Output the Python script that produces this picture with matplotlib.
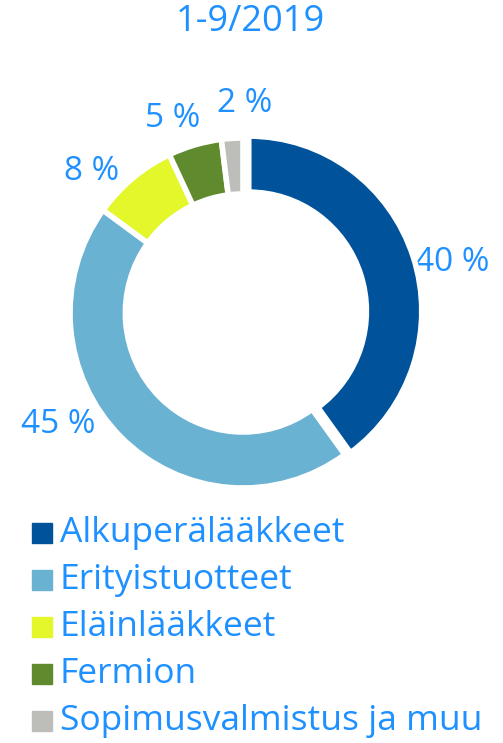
import numpy as np
import matplotlib.pyplot as plt
from matplotlib.patches import Rectangle

# data
segments = ['Alkuperälääkkeet', 'Erityistuotteet', 'Eläinlääkkeet', 'Fermion',
            'Sopimusvalmistus ja muu']
shares = [40, 45, 8, 5, 2]
colors = ['#00539b', '#6ab2d2', '#e3f72a', '#5f8b2e', '#bdbdb9']
title = '1-9/2019'

txt_col = '#1e90ff'
plt.rcParams['font.family'] = ['Open Sans', 'DejaVu Sans']

W, H = 503, 743
fig = plt.figure(figsize=(W / 100, H / 100), dpi=100)
ax = fig.add_axes([0, 0, 1, 1])
ax.set_xlim(0, W)
ax.set_ylim(0, H)
ax.axis('off')

# ring sits in its own axes (slightly taller than wide, like the original)
cx, cy = 243, H - 313
rx, ry = 173, 175
rax = fig.add_axes([(cx - rx) / W, (cy - ry) / H, 2 * rx / W, 2 * ry / H])
wedges, _ = rax.pie(shares, colors=colors, startangle=90, counterclock=False,
                    radius=1, explode=[0.035, 0, 0, 0, 0],
                    wedgeprops=dict(width=0.32, edgecolor='white', linewidth=4))
rax.set_aspect('auto')
rax.set_xlim(-1, 1)
rax.set_ylim(-1, 1)
rax.axis('off')

# percentage labels outside the ring
offsets = [-4.3, -13.8, 7.4, 3.8, -4.1]
radii = [215, 216, 207, 207, 210]
for w, v, off, r in zip(wedges, shares, offsets, radii):
    ang = np.deg2rad((w.theta1 + w.theta2) / 2 + off)
    ax.text(cx + r * np.cos(ang), cy + r * np.sin(ang), '%d %%' % v,
            ha='center', va='center', fontsize=24, color=txt_col)

ax.text(250, H - 22, title, ha='center', va='center', fontsize=26,
        color=txt_col)

# legend
y0 = H - 533
for i, (lab, c) in enumerate(zip(segments, colors)):
    y = y0 - i * 47
    ax.add_patch(Rectangle((32, y - 10), 20, 20, color=c))
    ax.text(60, y, lab, ha='left', va='center', fontsize=25.5, color=txt_col)

fig.savefig('out.png', dpi=100)
